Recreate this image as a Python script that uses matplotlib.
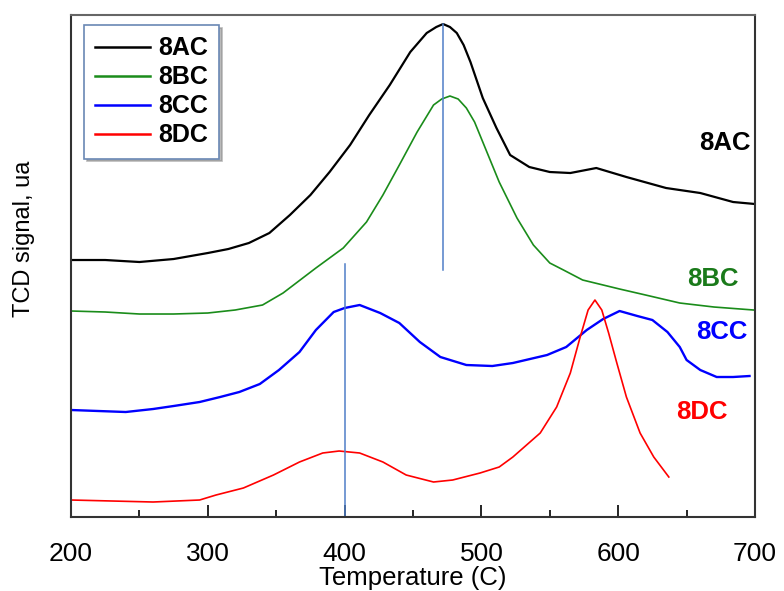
import matplotlib
matplotlib.use("Agg")
import matplotlib.pyplot as plt
from matplotlib.lines import Line2D

# TPR profiles, signal in arbitrary units (offset curves)
t_8ac = [200, 225, 250, 275, 300, 315, 330, 345, 360, 375, 389, 404, 418, 433,
         448, 460, 467, 472, 477, 482, 487, 492, 501, 511, 521, 535, 550, 565,
         584, 606, 635, 660, 684, 700]
s_8ac = [257, 257, 255, 258, 264, 268, 274, 284, 302, 322, 345, 372, 402, 432,
         465, 484, 490, 493, 490, 484, 472, 455, 419, 389, 362, 350, 345, 344,
         349, 340, 329, 324, 315, 313]

t_8bc = [200, 225, 250, 275, 300, 320, 340, 355, 379, 399, 416, 428, 440, 453,
         465, 471, 477, 483, 489, 495, 501, 513, 526, 538, 550, 560, 574, 601,
         620, 645, 670, 699]
s_8bc = [206, 205, 203, 203, 204, 207, 212, 224, 249, 269, 295, 322, 352, 385,
         412, 418, 421, 418, 409, 395, 375, 335, 299, 272, 254, 247, 237, 228,
         222, 214, 210, 207]

t_8cc = [200, 220, 240, 260, 275, 294, 309, 323, 338, 352, 367, 379, 392, 400,
         411, 426, 440, 455, 470, 489, 508, 523, 548, 562, 577, 589, 601, 614,
         625, 636, 645, 650, 660, 672, 684, 696]
s_8cc = [107, 106, 105, 108, 111, 115, 120, 125, 133, 147, 165, 187, 205, 209,
         212, 204, 194, 175, 160, 152, 151, 154, 162, 170, 187, 198, 206, 201,
         197, 185, 170, 157, 147, 140, 140, 141]

t_8dc = [200, 230, 260, 294, 306, 326, 348, 367, 384, 396, 411, 428, 445, 465,
         479, 499, 513, 523, 543, 555, 565, 572, 578, 583, 588, 593, 599, 606,
         616, 626, 637]
s_8dc = [17, 16, 15, 17, 22, 29, 42, 55, 64, 66, 64, 55, 42, 35,
         37, 44, 50, 60, 84, 110, 144, 179, 207, 217, 207, 184, 154, 120,
         84, 60, 40]

names = ["8AC", "8BC", "8CC", "8DC"]
colors = ["black", "#1a8c1a", "#0000ff", "#ff0000"]
widths = [1.6, 1.2, 1.7, 1.2]
label_colors = ["black", "#1a7a1a", "#0000ff", "#ff0000"]
label_pos = [(678, 374), (669, 238), (676, 185), (661, 105)]

# peak markers (temperature, signal from, signal to)
markers = [(472, 247, 493), (400, 0, 253)]

fig = plt.figure(figsize=(7.84, 5.91), dpi=100)
ax = fig.add_axes([0.0906, 0.1252, 0.8724, 0.8494])

series = [(t_8ac, s_8ac), (t_8bc, s_8bc), (t_8cc, s_8cc), (t_8dc, s_8dc)]
for (t, s), c, w in zip(series, colors, widths):
    ax.plot(t, s, color=c, lw=w)

for t0, y0, y1 in markers:
    ax.plot([t0, t0], [y0, y1], color="#4f7fc8", lw=1.1)

for name, c, (tx, ty) in zip(names, label_colors, label_pos):
    ax.text(tx, ty, name, color=c, fontsize=18.5, fontweight="bold",
            family="Liberation Sans", ha="center", va="center")

ax.set_xlim(200, 700)
ax.set_ylim(0, 502)
ax.set_xticks(range(200, 701, 100))
ax.set_xticks(range(250, 700, 100), minor=True)
ax.set_yticks([])
ax.tick_params(axis="x", which="major", direction="in", length=9, width=1.2,
               pad=18, labelsize=19)
ax.tick_params(axis="x", which="minor", direction="in", length=5, width=1.2)
for lab in ax.get_xticklabels():
    lab.set_family("Liberation Sans")

for sp in ax.spines.values():
    sp.set_linewidth(1.5)
    sp.set_color("#333333")
ax.spines["top"].set_color("#666666")

ax.set_xlabel("Temperature (C)", fontsize=18.5, family="Liberation Sans")
ax.xaxis.set_label_coords(0.5, -0.097)
ax.set_ylabel("TCD signal, ua", fontsize=17, family="Liberation Sans")
ax.yaxis.set_label_coords(-0.053, 0.554)

handles = [Line2D([], [], color=c, lw=1.8) for c in colors]
leg = ax.legend(handles, names, loc="upper left", bbox_to_anchor=(0.019, 0.98),
                borderaxespad=0, fancybox=False,
                shadow={"color": "#8c8c8c", "alpha": 0.6},
                handlelength=2.2, handletextpad=0.3, labelspacing=0.2,
                borderpad=0.45,
                prop={"family": "Liberation Sans", "weight": "bold", "size": 18})
leg.get_frame().set_edgecolor("#6a88b4")
leg.get_frame().set_linewidth(1.2)

fig.savefig("out.png", dpi=100)
